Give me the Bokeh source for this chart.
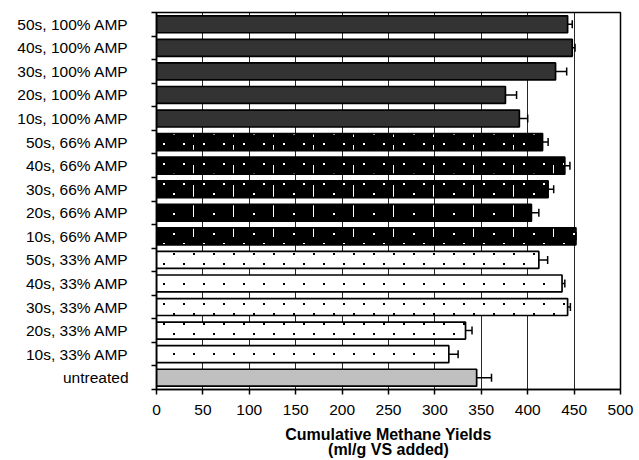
import zlib, struct, base64
from bokeh.plotting import figure
from bokeh.models import (ColumnDataSource, Range1d, FixedTicker, Whisker, TeeHead,
                          ImageURLTexture)
from bokeh.core.properties import value
from bokeh.embed import file_html
from bokeh.resources import INLINE

# ---- data (bottom to top) ----
categories = ["untreated",
              "10s, 33% AMP", "20s, 33% AMP", "30s, 33% AMP", "40s, 33% AMP", "50s, 33% AMP",
              "10s, 66% AMP", "20s, 66% AMP", "30s, 66% AMP", "40s, 66% AMP", "50s, 66% AMP",
              "10s, 100% AMP", "20s, 100% AMP", "30s, 100% AMP", "40s, 100% AMP", "50s, 100% AMP"]
groups = ["untreated"] + ["33"] * 5 + ["66"] * 5 + ["100"] * 5
yields = [345, 315, 333, 443, 437, 412, 452, 404, 422, 440, 416, 391, 376, 430, 448, 443]
errors = [16, 10, 7, 3, 3, 9.5, 0, 8, 6, 5.5, 6, 9, 12, 12, 3, 5]
x_ticks = [0, 50, 100, 150, 200, 250, 300, 350, 400, 450, 500]

FONT = "Liberation Sans"
pos = [i + 0.5 for i in range(len(categories))]
bounds = list(range(len(categories) + 1))


# ---- small PNG tiles used as fill textures ----
def png_uri(size, bg, fg, rects):
    px = [[bg] * size for _ in range(size)]
    for (x, y, w, h) in rects:
        for yy in range(y, y + h):
            for xx in range(x, x + w):
                px[yy][xx] = fg
    raw = b"".join(b"\x00" + bytes(c for p_ in row for c in p_) for row in px)

    def chunk(t, d):
        return (struct.pack(">I", len(d)) + t + d +
                struct.pack(">I", zlib.crc32(t + d) & 0xffffffff))
    png = (b"\x89PNG\r\n\x1a\n" +
           chunk(b"IHDR", struct.pack(">IIBBBBB", size, size, 8, 2, 0, 0, 0)) +
           chunk(b"IDAT", zlib.compress(raw)) + chunk(b"IEND", b""))
    return "data:image/png;base64," + base64.b64encode(png).decode()


WHITE, BLACK = (255, 255, 255), (0, 0, 0)
dots33 = [(3, 3, 2, 2), (23, 3, 2, 2), (13, 13, 2, 2), (33, 13, 2, 2),
          (3, 23, 2, 2), (23, 23, 2, 2), (13, 33, 2, 2), (33, 33, 2, 2)]
marks66 = [(3, 3, 2, 2), (23, 3, 2, 2), (13, 13, 2, 2), (3, 23, 2, 2), (23, 23, 2, 2),
           (13, 33, 2, 2), (33, 5, 1, 12), (33, 25, 1, 12)]
tex33 = ImageURLTexture(url=png_uri(40, WHITE, BLACK, dots33))
tex66 = ImageURLTexture(url=png_uri(40, BLACK, WHITE, marks66))

p = figure(width=639, height=460, x_range=Range1d(0, 500), y_range=Range1d(0, len(categories)),
           output_backend="svg", toolbar_location=None,
           min_border_left=156, min_border_right=19, min_border_top=12, min_border_bottom=71)
p.background_fill_color = "white"
p.border_fill_color = "white"
p.outline_line_color = "black"
p.outline_line_width = 1.5

styles = {
    "100": dict(fill_color="#333333"),
    "66": dict(fill_color="#000000", hatch_pattern=value("p66"), hatch_extra={"p66": tex66}),
    "33": dict(fill_color="#ffffff", hatch_pattern=value("p33"), hatch_extra={"p33": tex33}),
    "untreated": dict(fill_color="#c0c0c0"),
}

for g, st in styles.items():
    idx = [i for i, gg in enumerate(groups) if gg == g]
    src = ColumnDataSource(dict(y=[pos[i] for i in idx], x=[yields[i] for i in idx]))
    p.hbar(y="y", right="x", left=0, height=0.72, source=src,
           line_color="black", line_width=1.7, **st)

err_src = ColumnDataSource(dict(y=pos, lower=yields,
                                upper=[v + e for v, e in zip(yields, errors)]))
p.add_layout(Whisker(source=err_src, base="y", lower="lower", upper="upper",
                     dimension="width", line_color="black", line_width=1.5,
                     upper_head=TeeHead(size=8, line_color="black", line_width=1.5),
                     lower_head=None))

# grid
p.xgrid.ticker = FixedTicker(ticks=x_ticks)
p.xgrid.grid_line_color = "black"
p.xgrid.grid_line_width = 1
p.xgrid.grid_line_alpha = 0.85
p.ygrid.visible = False

# x axis
xa = p.xaxis[0]
xa.ticker = FixedTicker(ticks=x_ticks)
xa.axis_line_color = "black"
xa.axis_line_width = 1.5
xa.major_tick_out = 5
xa.major_tick_in = 0
xa.major_tick_line_color = "black"
xa.major_tick_line_width = 1.5
xa.minor_tick_line_color = None
xa.major_label_text_font = FONT
xa.major_label_text_font_size = "15.5px"
xa.major_label_text_color = "black"
xa.major_label_standoff = 10
xa.axis_label = "Cumulative Methane Yields\n(ml/g VS added)"
xa.axis_label_text_font = FONT
xa.axis_label_text_font_size = "16px"
xa.axis_label_text_font_style = "bold"
xa.axis_label_text_color = "black"
xa.axis_label_text_line_height = 0.9
xa.axis_label_standoff = 8

# y axis
ya = p.yaxis[0]
ya.ticker = FixedTicker(ticks=pos, minor_ticks=bounds)
ya.major_label_overrides = {pv: c for pv, c in zip(pos, categories)}
ya.axis_line_color = "black"
ya.axis_line_width = 1.5
ya.major_tick_out = 0
ya.major_tick_in = 0
ya.minor_tick_out = 5
ya.minor_tick_in = 0
ya.minor_tick_line_color = "black"
ya.minor_tick_line_width = 1.5
ya.major_label_text_font = FONT
ya.major_label_text_font_size = "15.5px"
ya.major_label_text_color = "black"
ya.major_label_standoff = 23

open("out.html", "w").write(file_html(p, INLINE))
